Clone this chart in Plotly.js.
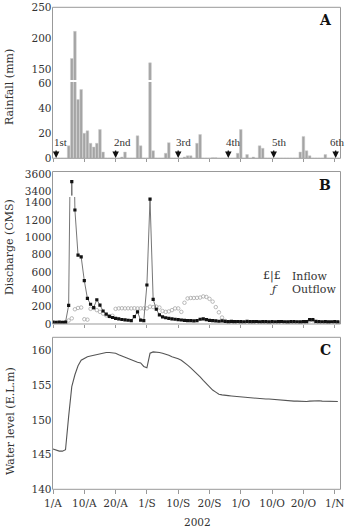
<!DOCTYPE html>
<html>
<head>
<meta charset="utf-8">
<script src="https://cdn.plot.ly/plotly-3.0.1.min.js"></script>
<style>html,body{margin:0;padding:0;background:#fff;}#chart{width:348px;height:531px;}</style>
</head>
<body>
<div id="chart"></div>
<script>
// ---- data (day index 0 = 1 Aug 2002) ----
const rainfall = [0,0,0,0,0,10,167,211,47,55,20,22,12,9,12,23,5,0,0,0,
  0,0,1,5,0,0,0,18,10,0,0,160,6,0,0,0,4,12.5,0,0,
  0,0,1,2,2,0,12,19,0,0,0,0.5,0.5,0,0,0,0,0,0,4,
  23,0,3,0,1,0,10,8,0,0,0,0,0,0,0,0,0,0,0,5,
  17.5,6,2,0,0,0,0,3,0,0,0,0];
const inflow = [22,20,22,20,22,215,3510,1315,795,775,500,295,228,190,280,218,150,115,88,75,
  65,58,52,47,43,40,85,140,45,40,450,1440,285,170,105,82,72,65,60,55,
  50,46,42,40,38,36,40,55,60,50,42,38,35,32,35,30,
  28,30,27,29,28,26,30,28,27,29,26,28,27,25,28,26,27,29,26,25,27,28,26,25,27,28,
  50,50,30,28,26,27,25,26,27,25];
const outflow = [12,12,12,12,12,40,65,170,185,190,55,50,175,185,160,140,120,100,90,95,
  175,180,182,180,181,180,182,180,181,180,180,200,195,200,190,150,140,145,160,180,
  180,140,245,295,300,300,302,305,318,312,290,258,195,135,75,35,
  20,18,15,15,16,15,14,15,15,14,15,15,14,15,15,14,15,15,14,15,15,14,15,15,16,18,
  42,44,18,15,14,15,15,14,15,15];
const waterLevel = [145.8,145.6,145.5,145.5,145.7,150.5,154.8,156.5,157.8,158.6,
  158.9,159.1,159.2,159.3,159.5,159.6,159.7,159.7,159.7,159.7,
  159.6,159.4,159.2,159.0,158.8,158.6,158.4,158.3,158.2,157.7,
  157.5,159.6,159.8,159.8,159.7,159.6,159.5,159.3,159.1,159.0,
  158.8,158.6,158.3,157.9,157.5,157.1,156.7,156.2,155.7,155.2,
  154.7,154.3,154.0,153.7,153.6,153.5,153.5,153.45,153.4,153.35,
  153.3,153.3,153.25,153.25,153.2,153.15,153.1,153.05,153.0,153.0,
  152.95,152.9,152.85,152.8,152.8,152.75,152.7,152.7,152.7,152.65,
  152.65,152.65,152.7,152.75,152.75,152.75,152.7,152.7,152.7,152.65,
  152.65,152.65];
const tickDays = [0,10,20,30,40,50,60,70,80,90];
const tickLabels = ['1/A','10/A','20/A','1/S','10/S','20/S','1/O','10/O','20/O','1/N'];
const eventDays = [1,20,40,56,70.5,90.3];
const eventLabels = ['1st','2nd','3rd','4th','5th','6th'];

const days = rainfall.map((_, i) => i);

// ---- layout helpers ----
const W = 348, H = 531;
const px = v => v / W;
const py = v => 1 - v / H;
const XD = [px(52.5), px(340.5)];
const XR = [-0.16, 91.85];
const FONT = 'DejaVu Serif';
const tf = {family: FONT, size: 10.5, color: '#333'};
const barColor = '#a4a4a4';

const bar = (ya) => ({type:'bar', x: days, y: rainfall, xaxis:'x', yaxis: ya, width: 0.85,
  marker:{color: barColor, line:{color:'#cdcdcd', width:0.5}}, hoverinfo:'skip'});
const inT = (xa, ya) => ({type:'scatter', mode:'lines+markers', x: days, y: inflow, xaxis: xa, yaxis: ya,
  line:{color:'#666', width:0.9}, marker:{symbol:'square', size:3.2, color:'#111'}, cliponaxis:true});
const outT = (xa, ya) => ({type:'scatter', mode:'markers', x: days, y: outflow, xaxis: xa, yaxis: ya,
  marker:{symbol:'circle-open', size:3.5, color:'#a8a8a8', line:{width:0.8}}, cliponaxis:true});

const traces = [
  bar('y'), bar('y2'),
  outT('x2','y3'), outT('x2','y4'),
  inT('x2','y3'), inT('x2','y4'),
  {type:'scatter', mode:'lines', x: days, y: waterLevel, xaxis:'x3', yaxis:'y5',
   line:{color:'#555', width:1.1}}
];

const xBase = {domain: XD, range: XR, tickvals: tickDays, ticktext: tickLabels, showgrid:false,
  zeroline:false, showline:false, ticks:'outside', ticklen:3, tickcolor:'#999', tickfont: tf, fixedrange:true};
const yBase = {showgrid:false, zeroline:false, showline:false, ticks:'', tickfont: tf, fixedrange:true};

const frame = (top, bottom) => ({type:'rect', xref:'paper', yref:'paper', x0: XD[0], x1: XD[1],
  y0: py(bottom), y1: py(top), line:{color:'#999', width:1}, fillcolor:'rgba(0,0,0,0)'});

const annotations = [];
const P = (x, y, text, font, extra) => annotations.push(Object.assign({x: px(x), y: py(y),
  xref:'paper', yref:'paper', text: text, showarrow:false, xanchor:'center', yanchor:'middle', font: font}, extra || {}));
// event arrows and labels
eventDays.forEach((d, i) => {
  annotations.push({x: d, y: 0.3, xref:'x', yref:'y', text:'', showarrow:true, ax:0, ay:-9,
    arrowhead:2, arrowsize:1, arrowwidth:1.3, arrowcolor:'#111'});
  annotations.push({x: d, y: 7.5, xref:'x', yref:'y', text: eventLabels[i], showarrow:false,
    xanchor:'left', xshift: i === eventDays.length - 1 ? -7 : -3, yanchor:'bottom', borderpad:0,
    font:{family:'Liberation Serif', size:11, color:'#333'}});
});
// panel letters
const bf = {family: FONT, size:14, color:'#111'};
P(325, 20, '<b>A</b>', bf); P(325, 185, '<b>B</b>', bf); P(325, 350, '<b>C</b>', bf);
// axis titles
const af = {family: FONT, size:11, color:'#333'};
P(10, 87, 'Rainfall (mm)', af, {textangle:-90});
P(10, 247, 'Discharge (CMS)', af, {textangle:-90});
P(10, 421, 'Water level (E.L.m)', af, {textangle:-90});
P(197, 522, '2002', {family: FONT, size:10.5, color:'#333'});
// legend
const lf = {family: FONT, size:11, color:'#333'};
P(283, 276, '£|£', lf, {xanchor:'right'});
P(290, 276, 'Inflow', lf, {xanchor:'left'});
P(273, 289, '<i>ƒ</i>', lf);
P(290, 289, 'Outflow', lf, {xanchor:'left'});

const layout = {
  width: W, height: H, margin:{l:0, r:0, t:0, b:0}, paper_bgcolor:'#fff', plot_bgcolor:'#fff',
  showlegend:false, barmode:'overlay', bargap:0,
  xaxis: Object.assign({}, xBase, {anchor:'y', showticklabels:false}),
  xaxis2: Object.assign({}, xBase, {anchor:'y3', showticklabels:false}),
  xaxis3: Object.assign({}, xBase, {anchor:'y5', ticklen:4}),
  yaxis: Object.assign({}, yBase, {domain:[py(158.3), py(82)], range:[0, 61.04], tickvals:[0,20,40,60], anchor:'x'}),
  yaxis2: Object.assign({}, yBase, {domain:[py(80), py(7.3)], range:[132.2, 250], tickvals:[150,200,250], anchor:'x'}),
  yaxis3: Object.assign({}, yBase, {domain:[py(324), py(197)], range:[0, 1465], tickvals:[0,200,400,600,800,1000,1200,1400], anchor:'x2'}),
  yaxis4: Object.assign({}, yBase, {domain:[py(195.5), py(171.5)], range:[3347, 3629], tickvals:[3400,3600], anchor:'x2'}),
  yaxis5: Object.assign({}, yBase, {domain:[py(489.3), py(337.3)], range:[140, 161.9], tickvals:[140,145,150,155,160], anchor:'x3'}),
  shapes: [frame(7.3, 158.3), frame(171.5, 324), frame(337.3, 489.3)],
  annotations: annotations
};

Plotly.newPlot('chart', traces, layout, {staticPlot:true, displayModeBar:false});
</script>
</body>
</html>
